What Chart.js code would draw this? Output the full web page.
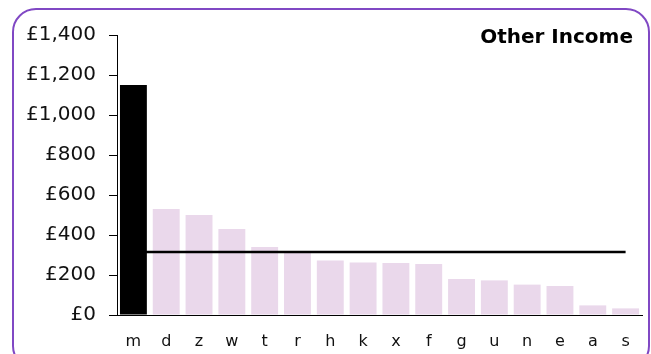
<!DOCTYPE html>
<html>
<head>
<meta charset="utf-8">
<script src="https://cdn.jsdelivr.net/npm/chart.js@4"></script>
<style>
  html, body { margin: 0; padding: 0; background: #fff; overflow: hidden; }
  #wrap { position: relative; width: 651px; height: 354px; overflow: hidden; }
  #frame {
    position: absolute; left: 12px; top: 8px; width: 638px; height: 362px;
    box-sizing: border-box; border: 2px solid #8048c4; border-radius: 24px;
    pointer-events: none;
  }
  canvas { position: absolute; left: 0; top: 0; }
</style>
</head>
<body>
<div id="wrap">
  <canvas id="incomeChart" width="651" height="354"></canvas>
  <div id="frame"></div>
</div>
<script>
const categories = ['m', 'd', 'z', 'w', 't', 'r', 'h', 'k', 'x', 'f', 'g', 'u', 'n', 'e', 'a', 's'];
const incomeValues = [1150, 530, 500, 430, 340, 312, 272, 263, 260, 255, 180, 173, 152, 145, 48, 33];
const averageValues = [315, 315, 315, 315, 315, 315, 315, 315, 315, 315, 315, 315, 315, 315, 315, 315];
const yTicks = [0, 200, 400, 600, 800, 1000, 1200, 1400];

const chartTitle = 'Other Income';

// title sits inside the plot, top right
const titlePlugin = {
    id: 'cornerTitle',
    afterDraw(chart) {
        const ctx = chart.ctx;
        ctx.save();
        ctx.font = 'bold 20px "DejaVu Sans"';
        ctx.fillStyle = '#000';
        ctx.textAlign = 'right';
        ctx.textBaseline = 'alphabetic';
        ctx.fillText(chartTitle, 633, 43);
        ctx.restore();
    }
};

new Chart(document.getElementById('incomeChart'), {
    data: {
        labels: categories,
        datasets: [
            {
                type: 'line',
                data: averageValues,
                borderColor: '#000',
                borderWidth: 2.5,
                pointRadius: 0,
                order: 0
            },
            {
                type: 'bar',
                data: incomeValues,
                backgroundColor: ctx => ctx.dataIndex === 0 ? '#000000' : '#ead8eb',
                barPercentage: 0.82,
                categoryPercentage: 1,
                order: 1
            }
        ]
    },
    options: {
        responsive: false,
        animation: false,
        layout: { padding: { left: 0, right: 9, top: 35, bottom: 0 } },
        plugins: {
            legend: { display: false },
            tooltip: { enabled: false }
        },
        scales: {
            x: {
                grid: { display: false },
                border: { display: true, color: '#000', width: 1 },
                ticks: { color: '#111', font: { family: 'DejaVu Sans', size: 16 }, padding: 9 },
                afterFit(scale) { scale.height = 39; }
            },
            y: {
                min: 0,
                max: 1400,
                afterBuildTicks(scale) { scale.ticks = yTicks.map(v => ({ value: v })); },
                grid: { drawOnChartArea: false, drawTicks: true, tickLength: 8, color: '#000' },
                border: { display: true, color: '#000', width: 1 },
                ticks: {
                    color: '#111',
                    font: { family: 'DejaVu Sans', size: 20 },
                    padding: 13,
                    callback: v => '£' + v.toLocaleString('en-GB')
                },
                afterFit(scale) { scale.width = 117; }
            }
        }
    },
    plugins: [titlePlugin]
});
</script>
</body>
</html>
